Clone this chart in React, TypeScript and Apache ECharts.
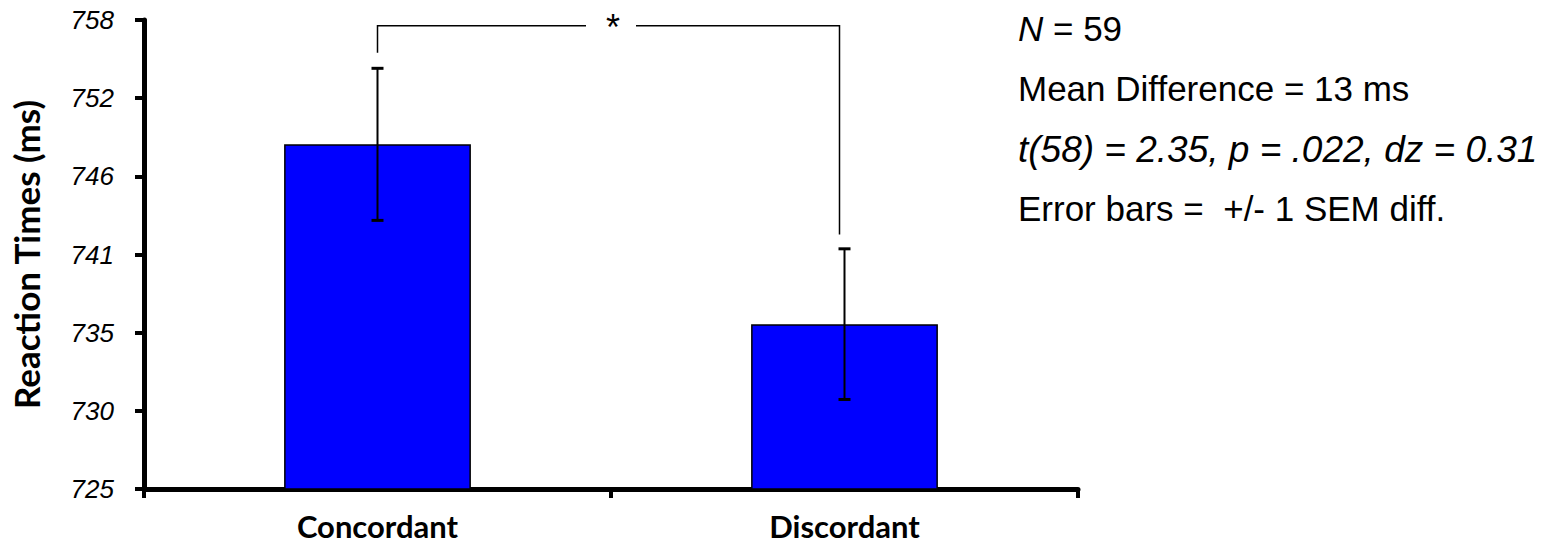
import React, { useEffect, useRef } from "react";
import * as echarts from "echarts";

const categories = ["Concordant", "Discordant"];
const means = [749.25, 736.6];
const errLow = [743.9, 731.3];
const errHigh = [754.6, 741.9];
const yTickLabels = ["725", "730", "735", "741", "746", "752", "758"];
const yMin = 725;
const yMax = 758;
const yStep = 5.5;
// bracket: left leg bottom, top bar, right leg bottom (value units)
const bracketLeftEnd = 755.7;
const bracketTop = 757.6;
const bracketRightEnd = 742.9;
const statLines = [
  "{i|N} = 59",
  "Mean Difference = 13 ms",
  "{t|t(58) = 2.35, p = .022, dz = 0.31}",
  "Error bars =  +/- 1 SEM diff.",
];

export default function App() {
  const ref = useRef<HTMLDivElement>(null);
  useEffect(() => {
    if (!ref.current) return;
    const chart = echarts.init(ref.current, null, { renderer: "svg" });
    const sansFont = "'Liberation Sans', Arial, sans-serif";
    const boldFont = "Lato, 'Open Sans', sans-serif";
    chart.setOption({
      animation: false,
      backgroundColor: "#ffffff",
      grid: { left: 143, right: 471, top: 20, bottom: 54, containLabel: false },
      xAxis: {
        type: "category",
        data: categories,
        boundaryGap: true,
        axisLine: { lineStyle: { color: "#000", width: 5 } },
        axisTick: { show: true, length: 9, inside: false, lineStyle: { color: "#000", width: 4 } },
        axisLabel: {
          color: "#000",
          fontFamily: boldFont,
          fontWeight: "bold",
          fontSize: 31,
          margin: 21,
        },
      },
      yAxis: {
        type: "value",
        min: yMin,
        max: yMax,
        interval: yStep,
        name: "Reaction Times (ms)",
        nameLocation: "middle",
        nameGap: 101,
        nameTextStyle: {
          color: "#000",
          fontFamily: boldFont,
          fontWeight: "bold",
          fontSize: 35,
        },
        splitLine: { show: false },
        axisLine: { show: true, lineStyle: { color: "#000", width: 5 } },
        axisTick: { show: true, length: 9, lineStyle: { color: "#000", width: 4 } },
        axisLabel: {
          color: "#000",
          fontFamily: sansFont,
          fontStyle: "italic",
          fontSize: 26,
          margin: 30,
          formatter: (v: number) => yTickLabels[Math.round((v - yMin) / yStep)] ?? "",
        },
      },
      series: [
        {
          type: "bar",
          data: means,
          barWidth: "40%",
          itemStyle: { color: "#0000ff", borderColor: "#000", borderWidth: 1.5 },
          z: 2,
        },
        {
          type: "custom",
          data: categories.map((_, i) => [i, errLow[i], errHigh[i]]),
          z: 5,
          renderItem: (params: any, api: any) => {
            const x = api.value(0);
            const lo = api.coord([x, api.value(1)]);
            const hi = api.coord([x, api.value(2)]);
            const cap = 6;
            const style = { stroke: "#000", lineWidth: 2 };
            return {
              type: "group",
              children: [
                { type: "line", shape: { x1: lo[0], y1: lo[1], x2: hi[0], y2: hi[1] }, style },
                { type: "line", shape: { x1: lo[0] - cap, y1: lo[1], x2: lo[0] + cap, y2: lo[1] }, style: { stroke: "#000", lineWidth: 3 } },
                { type: "line", shape: { x1: hi[0] - cap, y1: hi[1], x2: hi[0] + cap, y2: hi[1] }, style: { stroke: "#000", lineWidth: 3 } },
              ],
            };
          },
        },
        {
          type: "custom",
          data: [[0, 1, bracketLeftEnd, bracketTop, bracketRightEnd]],
          z: 6,
          renderItem: (params: any, api: any) => {
            const a = api.coord([api.value(0), api.value(2)]);
            const aTop = api.coord([api.value(0), api.value(3)]);
            const b0 = api.coord([api.value(1), api.value(4)]);
            const bTop0 = api.coord([api.value(1), api.value(3)]);
            const midX = (a[0] + b0[0]) / 2;
            const shift = -5;
            const b = [b0[0] + shift, b0[1]];
            const bTop = [bTop0[0] + shift, bTop0[1]];
            const gap = 25;
            const style = { stroke: "#000", lineWidth: 1.5, fill: "none" };
            return {
              type: "group",
              children: [
                {
                  type: "polyline",
                  shape: { points: [a, aTop, [midX - gap, aTop[1]]] },
                  style,
                },
                {
                  type: "polyline",
                  shape: { points: [[midX + gap, bTop[1]], bTop, b] },
                  style,
                },
                {
                  type: "text",
                  style: {
                    text: "*",
                    x: midX + 2,
                    y: aTop[1] + 2,
                    align: "center",
                    verticalAlign: "middle",
                    fontSize: 36,
                    fontFamily: sansFont,
                    fill: "#000",
                  },
                },
              ],
            };
          },
        },
      ],
      graphic: statLines.map((t, i) => ({
        type: "text",
        left: 1018,
        top: 11 + i * 60,
        style: {
          text: t,
          fontSize: 35,
          fontFamily: sansFont,
          fill: "#000",
          rich: {
            i: { fontSize: 35, fontFamily: sansFont, fontStyle: "italic", fill: "#000" },
            t: { fontSize: 37, fontFamily: sansFont, fontStyle: "italic", fill: "#000" },
          },
        },
      })),
    });
    return () => chart.dispose();
  }, []);
  return (
    <div
      ref={ref}
      style={{ position: "absolute", left: 0, top: 0, width: 1549, height: 543 }}
    />
  );
}
